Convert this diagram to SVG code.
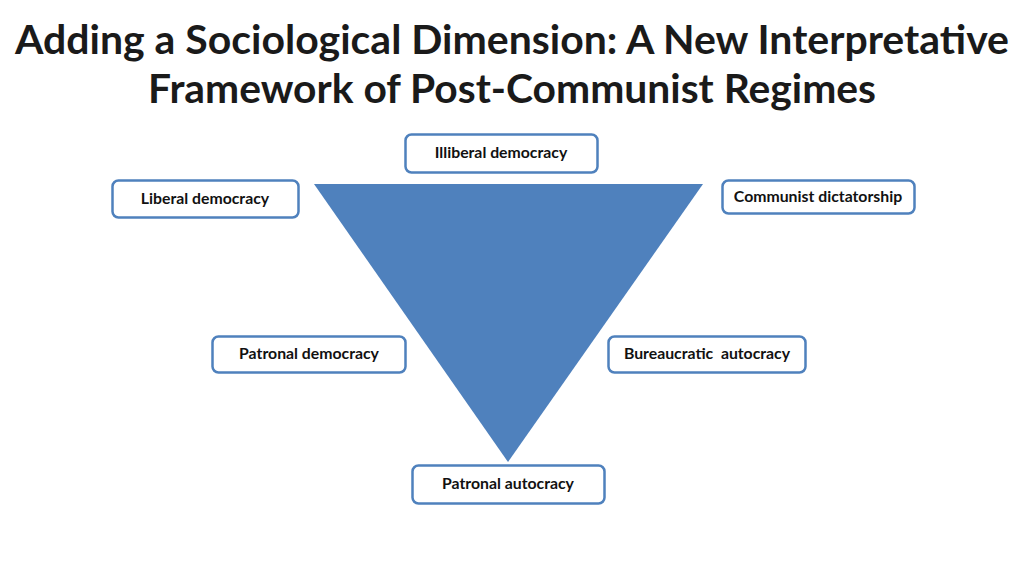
<svg xmlns="http://www.w3.org/2000/svg" width="1024" height="576" viewBox="0 0 1024 576">
<style>
.title{font-family:Lato,"Open Sans","Liberation Sans",sans-serif;font-weight:bold;font-size:40px;fill:#1a1a1a;text-anchor:middle}
.box{fill:#ffffff;stroke:#4f81bd;stroke-width:2.5}
.lbl{font-family:Lato,"Open Sans","Liberation Sans",sans-serif;font-weight:bold;font-size:15.8px;fill:#111111;text-anchor:middle}
</style>
<rect width="1024" height="576" fill="#ffffff"/>
<text class="title" x="512" y="54" textLength="994" lengthAdjust="spacingAndGlyphs">Adding a Sociological Dimension: A New Interpretative</text>
<text class="title" x="512" y="103" textLength="728" lengthAdjust="spacingAndGlyphs">Framework of Post-Communist Regimes</text>
<g id="connectors"></g>
<g id="triangle"><polygon points="314,184 703,184 508,462" fill="#4f81bd"/></g>
<g id="illiberal"><rect class="box" x="405.5" y="134.5" width="192" height="38" rx="6"/><text class="lbl" x="501" y="158">Illiberal democracy</text></g>
<g id="liberal"><rect class="box" x="112.5" y="180.5" width="186" height="37" rx="6"/><text class="lbl" x="205" y="204">Liberal democracy</text></g>
<g id="communist"><rect class="box" x="722.5" y="180.5" width="192" height="33" rx="6"/><text class="lbl" x="818" y="202">Communist dictatorship</text></g>
<g id="patronal-democracy"><rect class="box" x="212.5" y="336.5" width="193" height="36" rx="6"/><text class="lbl" x="309" y="359">Patronal democracy</text></g>
<g id="bureaucratic"><rect class="box" x="608.5" y="336.5" width="197" height="36" rx="6"/><text class="lbl" x="707" y="359" xml:space="preserve">Bureaucratic  autocracy</text></g>
<g id="patronal-autocracy"><rect class="box" x="412.5" y="465.5" width="192" height="38" rx="6"/><text class="lbl" x="508" y="489">Patronal autocracy</text></g>
</svg>
